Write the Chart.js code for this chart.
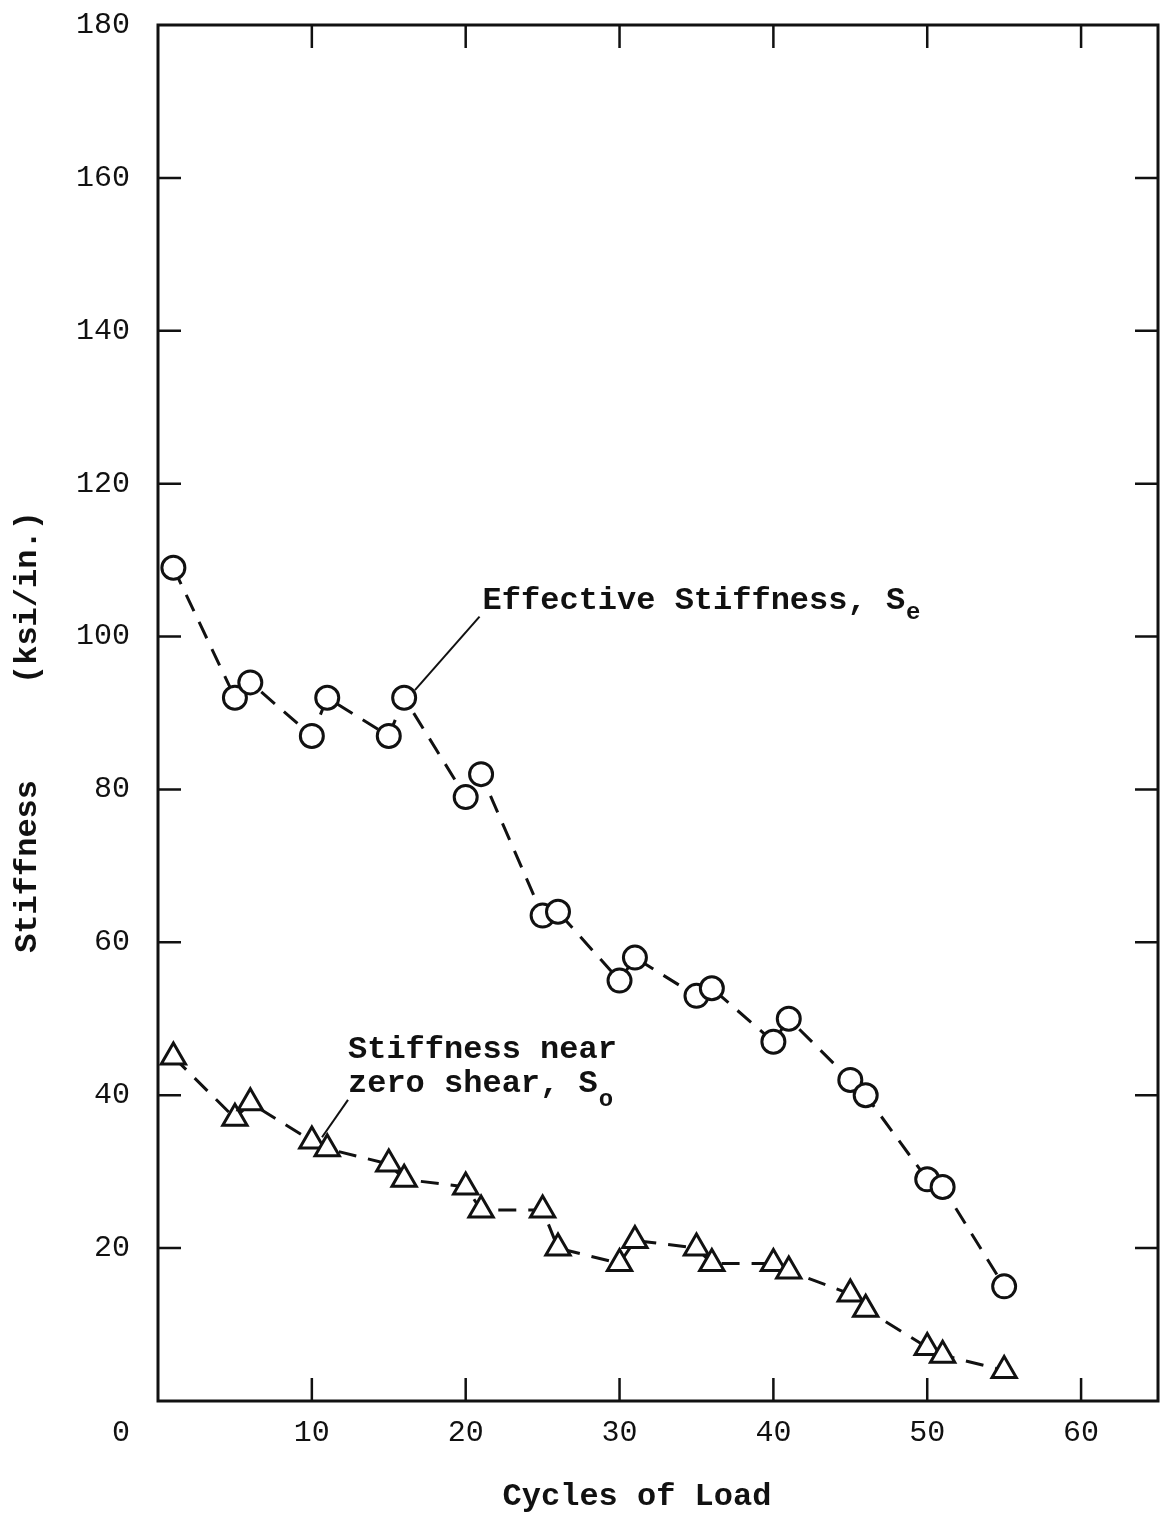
<!DOCTYPE html>
<html>
<head>
<meta charset="utf-8">
<title>Stiffness vs Cycles of Load</title>
<script src="https://cdn.jsdelivr.net/npm/chart.js@4.4.1/dist/chart.umd.min.js"></script>
<style>
    html, body { margin: 0; padding: 0; background: #fff; }
    #stiffness-chart { display: block; }
</style>
</head>
<body>
<canvas id="stiffness-chart" width="1161" height="1516"></canvas>
<script>
/*********************************************************************/
/***************************  Data  **********************************/
/*********************************************************************/
var cycles = [1, 5, 6, 10, 11, 15, 16, 20, 21, 25, 26, 30, 31, 35, 36, 40, 41, 45, 46, 50, 51, 55];
var effectiveStiffness = [109, 92, 94, 87, 92, 87, 92, 79, 82, 63.5, 64, 55, 58, 53, 54, 47, 50, 42, 40, 29, 28, 15];
var zeroShearStiffness = [45, 37, 39, 34, 33, 31, 29, 28, 25, 25, 20, 18, 21, 20, 18, 18, 17, 14, 12, 7, 6, 4];
var xTicks = [0, 10, 20, 30, 40, 50, 60];
var yTicks = [0, 20, 40, 60, 80, 100, 120, 140, 160, 180];

var typeFont = '"Liberation Mono", "DejaVu Sans Mono", monospace';
var ink = '#111';

function toPoints(xs, ys) {
    var pts = [];
    for (i = 0; i < xs.length; i++) {
        pts.push({ x: xs[i], y: ys[i] });
    }
    return pts;
}

// frame, inward tick marks, titles and the two callouts
var framePlugin = {
    id: 'frame',
    afterDraw: function(chart) {
        var ctx = chart.ctx, area = chart.chartArea;
        var sx = chart.scales.x, sy = chart.scales.y;
        var tick = 23;
        ctx.save();
        ctx.strokeStyle = ink;
        ctx.fillStyle = ink;
        ctx.lineWidth = 3;
        ctx.strokeRect(area.left, area.top, area.right - area.left, area.bottom - area.top);

        ctx.lineWidth = 2.5;
        ctx.beginPath();
        xTicks.forEach(function(v) {
            if (v === 0) return;
            var px = sx.getPixelForValue(v);
            ctx.moveTo(px, area.bottom); ctx.lineTo(px, area.bottom - tick);
            ctx.moveTo(px, area.top); ctx.lineTo(px, area.top + tick);
        });
        yTicks.forEach(function(v) {
            if (v === 0 || v === 180) return;
            var py = sy.getPixelForValue(v);
            ctx.moveTo(area.left, py); ctx.lineTo(area.left + tick, py);
            ctx.moveTo(area.right, py); ctx.lineTo(area.right - tick, py);
        });
        ctx.stroke();

        // origin label
        ctx.font = '30px ' + typeFont;
        ctx.textAlign = 'center';
        ctx.textBaseline = 'middle';
        ctx.fillText('0', area.left - 37, area.bottom + 32);

        // axis titles
        ctx.font = 'bold 32px ' + typeFont;
        ctx.fillText('Cycles of Load', 637, 1497);
        ctx.save();
        ctx.translate(28, 732);
        ctx.rotate(-Math.PI / 2);
        ctx.fillText('Stiffness     (ksi/in.)', 0, 0);
        ctx.restore();

        // callout: effective stiffness
        ctx.lineWidth = 2;
        ctx.beginPath();
        ctx.moveTo(sx.getPixelForValue(16.7), sy.getPixelForValue(93));
        ctx.lineTo(sx.getPixelForValue(20.9), sy.getPixelForValue(102.6));
        ctx.stroke();
        ctx.textAlign = 'left';
        ctx.textBaseline = 'alphabetic';
        var tx = sx.getPixelForValue(21.1), ty = sy.getPixelForValue(103.6);
        var lead = 'Effective Stiffness, S';
        ctx.font = 'bold 32px ' + typeFont;
        ctx.fillText(lead, tx, ty);
        var w = ctx.measureText(lead).width;
        ctx.font = 'bold 24px ' + typeFont;
        ctx.fillText('e', tx + w + 1, ty + 10);

        // callout: stiffness near zero shear
        ctx.beginPath();
        ctx.moveTo(sx.getPixelForValue(10.66), sy.getPixelForValue(34.5));
        ctx.lineTo(sx.getPixelForValue(12.35), sy.getPixelForValue(39.4));
        ctx.stroke();
        var zx = sx.getPixelForValue(12.35);
        ctx.font = 'bold 32px ' + typeFont;
        ctx.fillText('Stiffness near', zx, sy.getPixelForValue(44.9));
        var line2 = 'zero shear, S';
        var zy = sy.getPixelForValue(40.4);
        ctx.fillText(line2, zx, zy);
        w = ctx.measureText(line2).width;
        ctx.font = 'bold 24px ' + typeFont;
        ctx.fillText('o', zx + w + 1, zy + 14);
        ctx.restore();
    }
};

var ctx = document.getElementById('stiffness-chart');
var stiffnessChart = new Chart(ctx, {
    type: 'line',
    data: {
        datasets: [{
            label: 'Effective Stiffness, Se',
            data: toPoints(cycles, effectiveStiffness),
            borderColor: ink,
            borderWidth: 3,
            borderDash: [18, 12],
            pointStyle: 'circle',
            pointRadius: 11.5,
            pointBorderWidth: 3,
            pointBorderColor: ink,
            pointBackgroundColor: '#fff',
            fill: false,
            tension: 0
        }, {
            label: 'Stiffness near zero shear, So',
            data: toPoints(cycles, zeroShearStiffness),
            borderColor: ink,
            borderWidth: 3,
            borderDash: [18, 12],
            pointStyle: 'triangle',
            pointRadius: 14,
            pointBorderWidth: 3,
            pointBorderColor: ink,
            pointBackgroundColor: '#fff',
            fill: false,
            tension: 0
        }]
    },
    options: {
        responsive: false,
        animation: false,
        clip: false,
        layout: { autoPadding: false, padding: { top: 25, right: 3, left: 0, bottom: 0 } },
        plugins: {
            legend: { display: false },
            tooltip: { enabled: false }
        },
        scales: {
            x: {
                type: 'linear',
                min: 0,
                max: 65,
                afterFit: function(scale) {
                    scale.height = 115;
                    scale.paddingLeft = 0;
                    scale.paddingRight = 0;
                },
                afterBuildTicks: function(scale) {
                    scale.ticks = xTicks.map(function(v) { return { value: v }; });
                },
                grid: { display: false, drawTicks: false },
                border: { display: false },
                ticks: {
                    padding: 14,
                    color: ink,
                    font: { family: typeFont, size: 30 },
                    maxRotation: 0,
                    callback: function(v) { return v === 0 ? '' : v; }
                }
            },
            y: {
                type: 'linear',
                min: 0,
                max: 180,
                afterFit: function(scale) {
                    scale.width = 158;
                    scale.paddingTop = 0;
                    scale.paddingBottom = 0;
                },
                afterBuildTicks: function(scale) {
                    scale.ticks = yTicks.map(function(v) { return { value: v }; });
                },
                grid: { display: false, drawTicks: false },
                border: { display: false },
                ticks: {
                    padding: 28,
                    color: ink,
                    font: { family: typeFont, size: 30 },
                    callback: function(v) { return v === 0 ? '' : v; }
                }
            }
        }
    },
    plugins: [framePlugin]
});
</script>
</body>
</html>
